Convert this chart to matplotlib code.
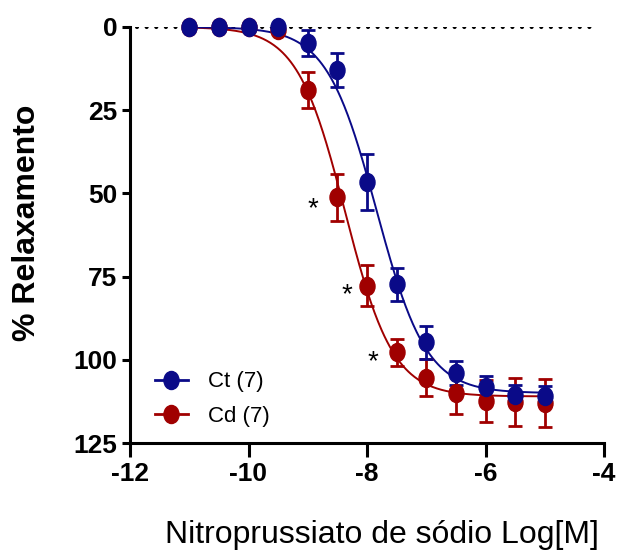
#Concentration-response curves for sodium nitroprusside, Ct vs Cd
import numpy as np
import matplotlib
matplotlib.use('Agg')
import matplotlib.pyplot as plt
from matplotlib.path import Path

#Mean and SEM (% relaxation, axis inverted)
log_conc = [-11, -10.5, -10, -9.5, -9, -8.5, -8, -7.5, -7, -6.5, -6, -5.5, -5]
ct_mean = [0, 0, 0, 0, 4.8, 12.9, 46.5, 77.3, 94.7, 104.0, 108.3, 110.6, 110.9]
ct_sem = [0, 0, 0, 0, 3.8, 5.0, 8.4, 5.0, 5.0, 3.7, 3.3, 3.0, 3.0]
cd_mean = [0, 0, 0, 1.0, 18.9, 51.2, 77.7, 97.8, 105.4, 110.0, 112.4, 112.7, 113.0]
cd_sem = [0, 0, 0, 0, 5.4, 7.0, 6.1, 4.2, 5.5, 6.3, 6.4, 7.1, 7.1]

#Fitted sigmoid parameters (top, logEC50, hill) estimated from the drawn curves
ct_fit = [110.0, -7.84, 1.03]
cd_fit = [111.0, -8.37, 1.07]

#Significance marks (x, y) next to the Cd points
star_x = [-8.91, -8.34, -7.90]
star_y = [54.7, 80.5, 100.7]

blue = '#0a0a88'
red = '#a00000'
font = ['Liberation Sans', 'DejaVu Sans']
plt.rcParams['axes.unicode_minus'] = False

#Slightly tall ellipse marker, like the original
circ = Path.unit_circle()
ellipse = Path(circ.vertices * np.array([1.0, 1.2]), circ.codes)

fig = plt.figure(figsize=(6.17, 5.52), dpi=100)
ax = fig.add_axes([130/617, 1 - 443/552, 474/617, 416/552])

x_fit = np.linspace(-11, -5, 400)

def sigmoid(x, p):
    top, ec50, hill = p
    return top / (1 + 10 ** ((ec50 - x) * hill))

ax.axhline(0, xmin=0.015, xmax=0.99, color='black', lw=3,
           linestyle=(0, (0.01, 2.3)), dash_capstyle='round', zorder=1)

handles = {}
for name, mean, sem, fit, col in [('Cd (7)', cd_mean, cd_sem, cd_fit, red),
                                  ('Ct (7)', ct_mean, ct_sem, ct_fit, blue)]:
    ax.plot(x_fit, sigmoid(x_fit, fit), color=col, lw=1.4, zorder=2)
    ax.errorbar(log_conc, mean, yerr=sem, fmt='none', ecolor=col,
                elinewidth=2.0, capsize=5, capthick=2.0, zorder=3, clip_on=False)
    ax.plot(log_conc, mean, linestyle='none', marker=ellipse, markersize=13,
            color=col, zorder=4, clip_on=False)
    handles[name] = ax.plot([], [], color=col, lw=2, marker=ellipse,
                            markersize=13)[0]

for sx, sy in zip(star_x, star_y):
    ax.text(sx, sy, '*', fontsize=20, ha='center', va='center', family=font)

ax.set_xlim(-12, -4)
ax.set_ylim(125, 0)
ax.set_xticks([-12, -10, -8, -6, -4])
ax.set_yticks([0, 25, 50, 75, 100, 125])

for s in ['top', 'right']:
    ax.spines[s].set_visible(False)
for s in ['left', 'bottom']:
    ax.spines[s].set_linewidth(2.2)

ax.tick_params(axis='y', length=6, width=2.2, pad=3)
ax.tick_params(axis='x', length=10, width=2.2, pad=4)
for lab in ax.get_xticklabels() + ax.get_yticklabels():
    lab.set_family(font)
    lab.set_fontweight('bold')
    lab.set_fontsize(19)

ax.set_ylabel('% Relaxamento', fontsize=23, fontweight='bold', family=font)
ax.yaxis.set_label_coords(-0.186, 0.53)
ax.set_xlabel('Nitroprussiato de sódio Log[M]', fontsize=23, family=font)
ax.xaxis.set_label_coords(0.532, -0.185)

leg = ax.legend([handles['Ct (7)'], handles['Cd (7)']], ['Ct (7)', 'Cd (7)'],
                loc='upper left', bbox_to_anchor=(0.01, 0.22), frameon=False,
                handlelength=1.5, handletextpad=0.9, labelspacing=0.6,
                prop={'family': font, 'size': 16})

plt.savefig('out.png', dpi=100)
